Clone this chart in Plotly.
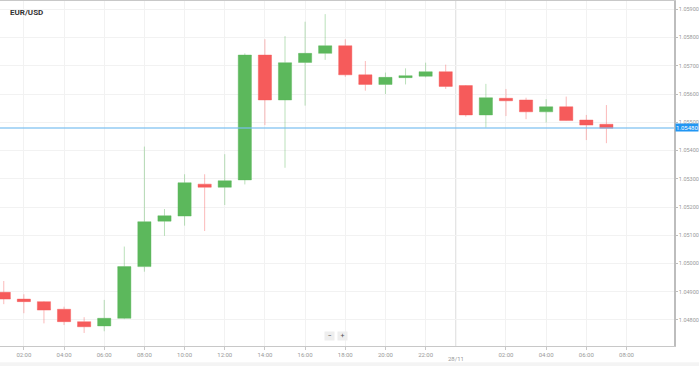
import plotly.graph_objects as go

times = [
    "2016-11-27 01:00", "2016-11-27 02:00", "2016-11-27 03:00", "2016-11-27 04:00",
    "2016-11-27 05:00", "2016-11-27 06:00", "2016-11-27 07:00", "2016-11-27 08:00",
    "2016-11-27 09:00", "2016-11-27 10:00", "2016-11-27 11:00", "2016-11-27 12:00",
    "2016-11-27 13:00", "2016-11-27 14:00", "2016-11-27 15:00", "2016-11-27 16:00",
    "2016-11-27 17:00", "2016-11-27 18:00", "2016-11-27 19:00", "2016-11-27 20:00",
    "2016-11-27 21:00", "2016-11-27 22:00", "2016-11-27 23:00", "2016-11-28 00:00",
    "2016-11-28 01:00", "2016-11-28 02:00", "2016-11-28 03:00", "2016-11-28 04:00",
    "2016-11-28 05:00", "2016-11-28 06:00", "2016-11-28 07:00",
]
open_ = [1.04898, 1.04874, 1.04865, 1.04838, 1.04794, 1.04779, 1.04806, 1.04989,
         1.05150, 1.05168, 1.05281, 1.05270, 1.05296, 1.05738, 1.05579, 1.05712,
         1.05744, 1.05771, 1.05668, 1.05634, 1.05658, 1.05663, 1.05679, 1.05630,
         1.05526, 1.05585, 1.05579, 1.05537, 1.05555, 1.05508, 1.05493]
high = [1.04938, 1.04891, 1.04867, 1.04847, 1.04810, 1.04871, 1.05060, 1.05414,
        1.05193, 1.05316, 1.05316, 1.05387, 1.05744, 1.05794, 1.05805, 1.05856,
        1.05883, 1.05794, 1.05717, 1.05676, 1.05691, 1.05711, 1.05704, 1.05632,
        1.05636, 1.05618, 1.05587, 1.05582, 1.05591, 1.05526, 1.05561]
low = [1.04856, 1.04824, 1.04788, 1.04782, 1.04754, 1.04760, 1.04803, 1.04971,
       1.05098, 1.05134, 1.05115, 1.05207, 1.05280, 1.05490, 1.05339, 1.05559,
       1.05721, 1.05661, 1.05612, 1.05600, 1.05634, 1.05659, 1.05618, 1.05520,
       1.05481, 1.05522, 1.05511, 1.05499, 1.05505, 1.05437, 1.05426]
close = [1.04874, 1.04865, 1.04835, 1.04794, 1.04776, 1.04806, 1.04989, 1.05148,
         1.05169, 1.05286, 1.05270, 1.05293, 1.05738, 1.05579, 1.05711, 1.05744,
         1.05771, 1.05668, 1.05634, 1.05659, 1.05665, 1.05679, 1.05627, 1.05526,
         1.05587, 1.05576, 1.05537, 1.05555, 1.05506, 1.05490, 1.05479]

tick_times = ["2016-11-27 02:00", "2016-11-27 04:00", "2016-11-27 06:00", "2016-11-27 08:00",
              "2016-11-27 10:00", "2016-11-27 12:00", "2016-11-27 14:00", "2016-11-27 16:00",
              "2016-11-27 18:00", "2016-11-27 20:00", "2016-11-27 22:00",
              "2016-11-28 02:00", "2016-11-28 04:00", "2016-11-28 06:00", "2016-11-28 08:00"]
tick_labels = ["02:00", "04:00", "06:00", "08:00", "10:00", "12:00", "14:00", "16:00",
               "18:00", "20:00", "22:00", "02:00", "04:00", "06:00", "08:00"]
y_ticks = [1.048, 1.049, 1.050, 1.051, 1.052, 1.053, 1.054, 1.055, 1.056, 1.057, 1.058, 1.059]

day_divider = "2016-11-27 23:30"
day_label = "28/11"
current_price = 1.05480
title = "EUR/USD"

GREEN = "#5cb85c"
RED = "#f65b5b"

fig = go.Figure()
fig.add_trace(go.Candlestick(
    x=times, open=open_, high=high, low=low, close=close,
    increasing=dict(fillcolor=GREEN, line=dict(color="rgba(92,184,92,0.42)", width=1)),
    decreasing=dict(fillcolor=RED, line=dict(color="rgba(246,91,91,0.42)", width=1)),
    whiskerwidth=0, showlegend=False, hoverinfo="skip",
))

shapes = [
    dict(type="line", xref="x", yref="paper", x0=day_divider, x1=day_divider, y0=0, y1=1,
         line=dict(color="#dcdcdc", width=1), layer="below"),
    dict(type="line", xref="paper", yref="y", x0=0, x1=1, y0=current_price, y1=current_price,
         line=dict(color="rgba(120,190,240,0.6)", width=2)),
    dict(type="rect", xref="paper", yref="paper", x0=0, x1=1.05, y0=-0.047, y1=-0.06,
         fillcolor="#f4f4f4", line=dict(width=0), layer="below"),
]

annotations = [
    dict(text="<b>%s</b>" % title, xref="paper", yref="paper", x=0.012, y=0.967,
         xanchor="left", yanchor="middle", showarrow=False,
         font=dict(size=8, color="#333333")),
    dict(text="%.5f" % current_price, xref="paper", yref="y", x=1, y=current_price,
         xanchor="left", yanchor="middle", xshift=1, showarrow=False,
         bgcolor="#2196f3", borderpad=0, font=dict(size=6, color="white")),
    dict(text=day_label, xref="x", yref="paper", x=day_divider, y=0, yshift=-12,
         xanchor="center", yanchor="middle", showarrow=False,
         font=dict(size=6, color="#999999")),
    dict(text="−", xref="paper", yref="paper", x=0.4892, y=0.029,
         xanchor="center", yanchor="middle", showarrow=False, width=9, height=8,
         bgcolor="#eeeeee", borderpad=0, font=dict(size=7, color="#555555")),
    dict(text="+", xref="paper", yref="paper", x=0.5078, y=0.029,
         xanchor="center", yanchor="middle", showarrow=False, width=9, height=8,
         bgcolor="#eeeeee", borderpad=0, font=dict(size=7, color="#555555")),
]

fig.update_layout(
    width=699, height=366,
    margin=dict(l=0, r=21, t=1, b=20),
    paper_bgcolor="white", plot_bgcolor="white",
    font=dict(family="Roboto, Arial, sans-serif", size=6, color="#999999"),
    boxgap=0.1, boxgroupgap=0.27,
    shapes=shapes, annotations=annotations,
    xaxis=dict(
        type="date",
        range=["2016-11-27 00:48:43", "2016-11-28 10:21:54"],
        tickmode="array", tickvals=tick_times, ticktext=tick_labels,
        showgrid=True, gridcolor="#f2f2f2", gridwidth=1,
        showline=True, linecolor="#c8c8c8", linewidth=1, mirror=True,
        ticks="outside", ticklen=3, tickcolor="#c8c8c8",
        tickfont=dict(size=6, color="#999999"),
        rangeslider=dict(visible=False), zeroline=False,
    ),
    yaxis=dict(
        side="right",
        range=[1.047079, 1.059294],
        tickmode="array", tickvals=y_ticks, tickformat=".5f",
        showgrid=True, gridcolor="#f2f2f2", gridwidth=1,
        showline=True, linecolor="#bdbdbd", linewidth=1.5,
        ticks="outside", ticklen=2, tickcolor="#bdbdbd",
        tickfont=dict(size=5.5, color="#999999"),
        zeroline=False,
    ),
)

fig.write_html("out.html", config={"displayModeBar": False},
               post_script="document.body.style.margin='0';document.body.style.padding='0';")
